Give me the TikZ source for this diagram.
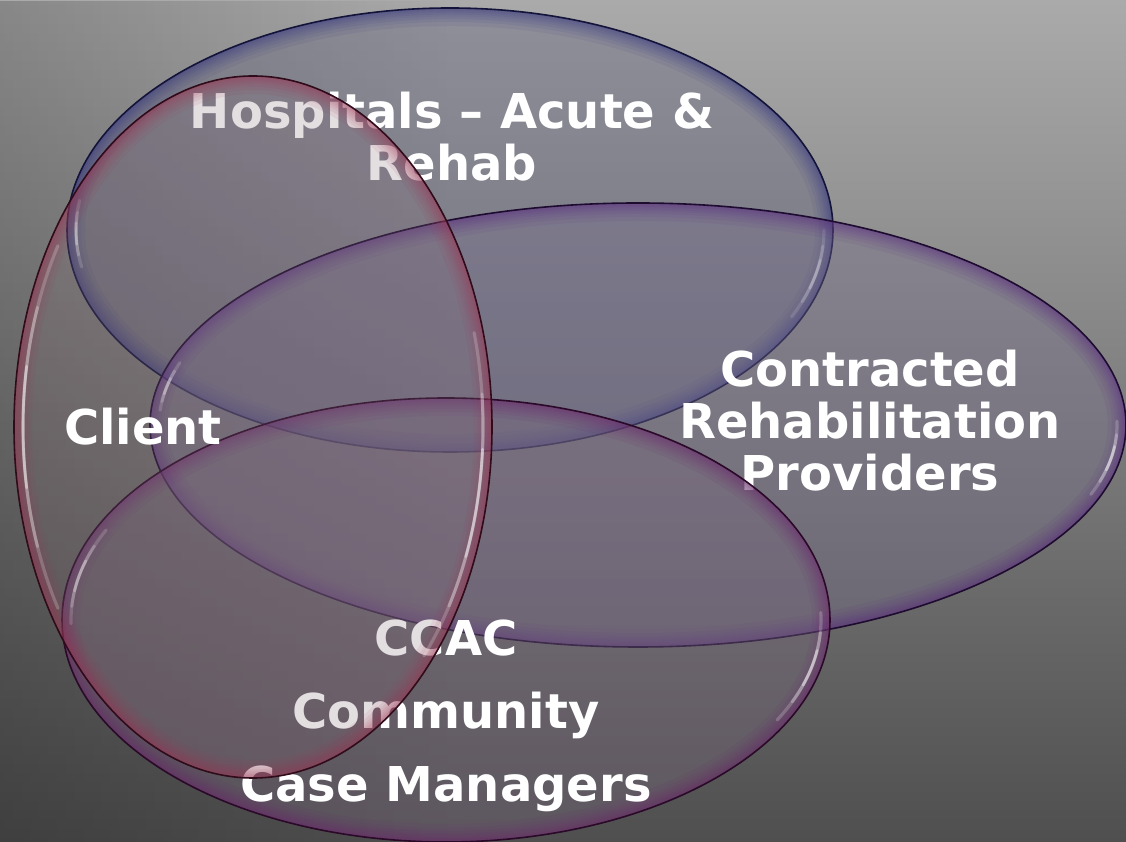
\documentclass[tikz,border=0pt]{standalone}
\usepackage{fontspec}
\setmainfont{DejaVu Sans}
\usetikzlibrary{fadings}

\definecolor{bgtop}{RGB}{170,170,170}
\definecolor{bgbottom}{RGB}{79,79,79}

\definecolor{hospfill}{RGB}{98,98,128}
\definecolor{hospglow}{RGB}{50,50,130}
\definecolor{hospline}{RGB}{20,20,58}

\definecolor{contrfill}{RGB}{118,108,140}
\definecolor{contrglow}{RGB}{90,40,130}
\definecolor{contrline}{RGB}{30,12,48}

\definecolor{ccacfill}{RGB}{118,100,124}
\definecolor{ccacglow}{RGB}{110,36,110}
\definecolor{ccacline}{RGB}{42,10,40}

\definecolor{clientfill}{RGB}{132,106,118}
\definecolor{clientglow}{RGB}{160,52,84}
\definecolor{clientline}{RGB}{48,12,26}

% translucent glass ellipse: fill, inner edge glow, dark rim
\newcommand{\glassellipse}[5]{%
  \fill[#4fill, fill opacity=#5] (#1) ellipse [x radius=#2, y radius=#3];
  \begin{scope}
    \clip (#1) ellipse [x radius=#2, y radius=#3];
    \foreach \w in {36,28,22,17,13,9,6,3}
      \draw[#4glow, line width=\w pt, opacity=0.085] (#1) ellipse [x radius=#2, y radius=#3];
  \end{scope}
  \draw[#4line, line width=1.6pt] (#1) ellipse [x radius=#2, y radius=#3];
}

% tapered white reflection just inside the rim
\newcommand{\gleam}[5]{%
  \pgfmathsetmacro\gleamrx{#2-9}%
  \pgfmathsetmacro\gleamry{#3-9}%
  \foreach \f/\o/\lw in {0/0.2/3.2, 0.18/0.25/3, 0.34/0.38/2.6}{%
    \pgfmathsetmacro\gleama{#4+\f*(#5-#4)}%
    \pgfmathsetmacro\gleamb{#5-\f*(#5-#4)}%
    \draw[white, line width=\lw pt, line cap=round, opacity=\o]
      (#1) ++(\gleama:\gleamrx pt and \gleamry pt)
      arc[start angle=\gleama, end angle=\gleamb, x radius=\gleamrx pt, y radius=\gleamry pt];
  }%
}

\begin{document}
\begin{tikzpicture}[x=1pt,y=1pt,
  setlabel/.style={text=white, font=\fontsize{48}{52}\selectfont\bfseries,
    align=center, inner sep=0pt}]
\useasboundingbox (0,0) rectangle (1126,842);
\clip (0,0) rectangle (1126,842);

% backdrop
\shade[top color=bgtop, bottom color=bgbottom] (0,0) rectangle (1126,842);
\fill[black, opacity=0.2, path fading=east] (0,0) rectangle (450,842);

% Hospitals (anchor=base sits on the last line)
\glassellipse{450,612}{383}{222}{hosp}{0.36}
\gleam{450,612}{383}{222}{172}{190}
\gleam{450,612}{383}{222}{336}{360}
\node[setlabel, anchor=base] (hosp) at (452,661) {Hospitals – Acute \&\\Rehab};

% Contracted rehabilitation providers
\glassellipse{638,417}{488}{222}{contr}{0.36}
\gleam{638,417}{488}{222}{163}{176}
\gleam{638,417}{488}{222}{341}{361}
\node[setlabel, anchor=base] (contr) at (870,351) {Contracted\\Rehabilitation\\Providers};

% CCAC community case managers
\glassellipse{446,222}{384}{222}{ccac}{0.36}
\gleam{446,222}{384}{222}{155}{181}
\gleam{446,222}{384}{222}{332}{362}
\node[setlabel, anchor=base, font=\fontsize{48}{73}\selectfont\bfseries] (ccac) at (446,40) {CCAC\\Community\\Case Managers};

% Client
\glassellipse{253,415}{239}{351}{client}{0.22}
\gleam{253,415}{239}{351}{148}{212}
\gleam{253,415}{239}{351}{-42}{16}
\node[setlabel, anchor=base] (client) at (143,397) {Client};
\end{tikzpicture}
\end{document}
